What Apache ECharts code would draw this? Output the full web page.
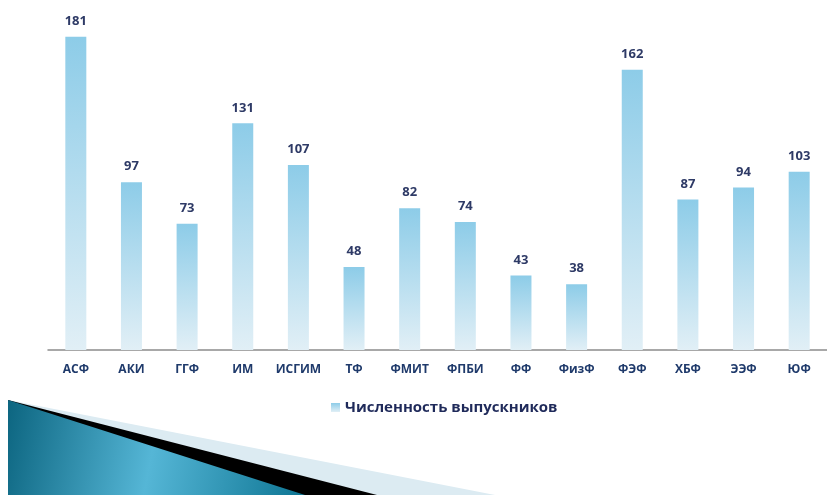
<!DOCTYPE html>
<html>
<head>
<meta charset="utf-8">
<title>Численность выпускников</title>
<script src="https://cdn.jsdelivr.net/npm/echarts@6/dist/echarts.min.js"></script>
<style>
    html, body { margin: 0; padding: 0; background: #fff; }
    #chart { width: 827px; height: 495px; }
</style>
</head>
<body>
<div id="chart"></div>
<script>
var categories = ['АСФ', 'АКИ', 'ГГФ', 'ИМ', 'ИСГИМ', 'ТФ', 'ФМИТ', 'ФПБИ', 'ФФ', 'ФизФ', 'ФЭФ', 'ХБФ', 'ЭЭФ', 'ЮФ'];
var graduates = [181, 97, 73, 131, 107, 48, 82, 74, 43, 38, 162, 87, 94, 103];
var seriesName = 'Численность выпускников';

var chart = echarts.init(document.getElementById('chart'));

var option = {
    animation: false,
    textStyle: { fontFamily: 'Open Sans' },
    grid: {
        left: 48,
        right: -5,
        top: 4,
        bottom: 145
    },
    legend: {
        data: [seriesName],
        left: 326,
        top: 395,
        itemWidth: 9,
        itemHeight: 9,
        icon: 'rect',
        textStyle: {
            color: '#1F2A5A',
            fontWeight: 'bold',
            fontSize: 15
        }
    },
    xAxis: {
        type: 'category',
        data: categories,
        axisLine: { lineStyle: { color: '#8C8C8C', width: 1.5 } },
        axisTick: { show: false },
        axisLabel: {
            margin: 14,
            fontSize: 12,
            fontWeight: 'bold',
            color: '#1F3A6B',
            interval: 0
        }
    },
    yAxis: {
        type: 'value',
        min: 0,
        max: 200,
        show: false,
        splitLine: { show: false }
    },
    series: [{
        name: seriesName,
        type: 'bar',
        barWidth: 21,
        data: graduates,
        itemStyle: {
            color: new echarts.graphic.LinearGradient(0, 0, 0, 1, [
                { offset: 0, color: '#8DCCE8' },
                { offset: 1, color: '#E1EFF6' }
            ])
        },
        label: {
            show: true,
            position: 'top',
            distance: 9,
            fontSize: 13,
            fontWeight: 'bold',
            color: '#2E3A66'
        }
    }],
    // slide decoration, bottom left corner
    graphic: [{
        type: 'polygon',
        shape: { points: [[8, 400], [495, 495], [8, 495]] },
        style: { fill: '#DCEBF2' },
        silent: true
    }, {
        type: 'polygon',
        shape: { points: [[8, 400], [377, 495], [8, 495]] },
        style: { fill: '#000000' },
        silent: true
    }, {
        type: 'polygon',
        shape: { points: [[8, 400], [305, 495], [8, 495]] },
        style: {
            fill: new echarts.graphic.LinearGradient(0, 0, 1, 0.6, [
                { offset: 0, color: '#0C6580' },
                { offset: 0.5, color: '#55B6D6' },
                { offset: 1, color: '#117896' }
            ])
        },
        silent: true
    }]
};

chart.setOption(option);
</script>
</body>
</html>
